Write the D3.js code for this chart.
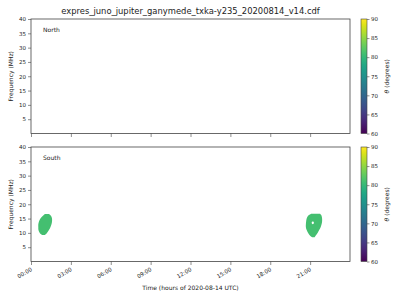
<!DOCTYPE html>
<html><head><meta charset="utf-8">
<script src="https://cdn.jsdelivr.net/npm/d3@7"></script>
<style>body{margin:0;background:#fff}svg{display:block}text{font-family:"DejaVu Sans",sans-serif;fill:#222}</style>
</head><body><svg id="c" width="400" height="300"></svg>
<script>
const title = "expres_juno_jupiter_ganymede_txka-y235_20200814_v14.cdf";
const panels = ["North", "South"];
const xTickHours = [0, 3, 6, 9, 12, 15, 18, 21];
const xTickLabels = ["00:00", "03:00", "06:00", "09:00", "12:00", "15:00", "18:00", "21:00"];
const yTicks = [5, 10, 15, 20, 25, 30, 35, 40];
const cbTicks = [60, 65, 70, 75, 80, 85, 90];
// South blobs: rows of frequency (MHz) with start/end time (hours)
const blob1Freq  = [9.3, 10, 11, 12, 13, 14, 15, 16, 16.6];
const blob1Start = [0.83, 0.66, 0.56, 0.55, 0.55, 0.6, 0.71, 0.9, 1.05];
const blob1End   = [1.05, 1.2, 1.35, 1.46, 1.54, 1.58, 1.58, 1.5, 1.35];
const blob1Theta = 81;
const blob2Freq  = [8.5, 9, 10, 11, 12, 13, 14, 15, 16, 16.7];
const blob2Start = [21.15, 21.0, 20.85, 20.74, 20.68, 20.68, 20.7, 20.74, 20.85, 21.08];
const blob2End   = [21.34, 21.41, 21.56, 21.68, 21.79, 21.86, 21.9, 21.9, 21.86, 21.75];
const blob2Theta = 81;
const holeTime = [21.2], holeFreq = [13.5];

const svg = d3.select("#c");
const L = 31, R = 350;
const tops = [19, 147], H = 114.5;
const x = d3.scaleLinear().domain([0, 24]).range([L, R]);
const col = d3.scaleSequential(d3.interpolateViridis).domain([60, 90]);

svg.append("text").attr("x", (L + R) / 2).attr("y", 14).attr("text-anchor", "middle")
  .style("font-size", "8.4px").text(title);

const defs = svg.append("defs");
const grad = defs.append("linearGradient").attr("id", "vg").attr("x1", 0).attr("y1", 1).attr("x2", 0).attr("y2", 0);
d3.range(0, 1.0001, 0.05).forEach(t => grad.append("stop").attr("offset", t).attr("stop-color", d3.interpolateViridis(t)));

panels.forEach((name, i) => {
  const t0 = tops[i];
  const y = d3.scaleLinear().domain([0, 40]).range([t0 + H, t0]);
  const g = svg.append("g");
  if (name === "South") {
    const area = d3.area().curve(d3.curveCatmullRom);
    const blobs = [
      [blob1Freq, blob1Start, blob1End, blob1Theta],
      [blob2Freq, blob2Start, blob2End, blob2Theta]
    ];
    blobs.forEach(([f, s, e, th]) => {
      const rows = f.map((v, k) => ({f: v, s: s[k], e: e[k]}));
      g.append("path").datum(rows)
        .attr("d", area.y(d => y(d.f)).x0(d => x(d.s)).x1(d => x(d.e)))
        .attr("fill", col(th));
    });
    g.selectAll(".hole").data(holeTime).enter().append("ellipse")
      .attr("cx", (d, k) => x(d)).attr("cy", (d, k) => y(holeFreq[k]))
      .attr("rx", 1.1).attr("ry", 1.4).attr("fill", "#fff");
  }
  // frame
  g.append("rect").attr("x", L).attr("y", t0).attr("width", R - L).attr("height", H)
    .attr("fill", "none").attr("stroke", "#444").attr("stroke-width", 0.8);
  // y axis
  const ya = g.append("g").attr("transform", `translate(${L},0)`)
    .call(d3.axisLeft(y).tickValues(yTicks).tickSize(3).tickPadding(2));
  ya.select(".domain").remove();
  ya.selectAll("line").attr("stroke", "#444").attr("stroke-width", 0.6);
  ya.selectAll("text").style("font-size", "5.5px").attr("fill", "#222");
  // x axis
  const xa = g.append("g").attr("transform", `translate(0,${t0 + H})`)
    .call(d3.axisBottom(x).tickValues(xTickHours).tickSize(3.5).tickFormat((d, k) => i === 1 ? xTickLabels[k] : ""));
  xa.select(".domain").remove();
  xa.selectAll("line").attr("stroke", "#444").attr("stroke-width", 0.6);
  if (i === 1) {
    xa.selectAll("text").style("font-size", "5.5px").attr("fill", "#222")
      .attr("text-anchor", "end").attr("dy", null).attr("y", 0)
      .attr("transform", "translate(1,9) rotate(-30)");
  }
  g.append("text").attr("x", 0).attr("y", 0)
    .attr("transform", `translate(13,${t0 + H / 2}) rotate(-90)`).attr("text-anchor", "middle")
    .style("font-size", "6px").text("Frequency (MHz)");
  g.append("text").attr("x", 43).attr("y", t0 + 13).style("font-size", "6px").text(name);
  // colorbar
  const cx = 361, cw = 6;
  const cy = d3.scaleLinear().domain([60, 90]).range([t0 + H, t0]);
  g.append("rect").attr("x", cx).attr("y", t0).attr("width", cw).attr("height", H).attr("fill", "url(#vg)")
    .attr("stroke", "#444").attr("stroke-width", 0.6);
  const ca = g.append("g").attr("transform", `translate(${cx + cw},0)`)
    .call(d3.axisRight(cy).tickValues(cbTicks).tickSize(2.5).tickPadding(1.5));
  ca.select(".domain").remove();
  ca.selectAll("line").attr("stroke", "#444").attr("stroke-width", 0.6);
  ca.selectAll("text").style("font-size", "5.5px").attr("fill", "#222");
  const lab = g.append("text").attr("transform", `translate(389,${t0 + H / 2}) rotate(-90)`).attr("text-anchor", "middle")
    .style("font-size", "6px");
  lab.append("tspan").style("font-style", "italic").text("θ");
  lab.append("tspan").text(" (degrees)");
});

svg.append("text").attr("x", (L + R) / 2).attr("y", 290).attr("text-anchor", "middle")
  .style("font-size", "6px").text("Time (hours of 2020-08-14 UTC)");
</script></body></html>
